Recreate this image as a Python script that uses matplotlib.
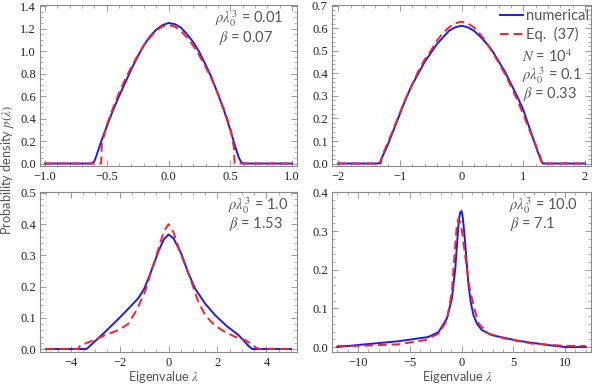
import matplotlib
matplotlib.use('Agg')
import matplotlib.pyplot as plt
from matplotlib.ticker import MultipleLocator, FuncFormatter
from matplotlib.lines import Line2D

plt.rcParams['mathtext.fontset'] = 'stix'
plt.rcParams['font.family'] = ['Lato', 'DejaVu Sans']

# panel (a): rho*lambda0^3 = 0.01
a_x_num = [-1.0, -0.62, -0.60, -0.58, -0.55, -0.50, -0.45, -0.40, -0.35, -0.30, -0.25, -0.20, -0.15, -0.10,
           -0.05, 0.0, 0.05, 0.10, 0.15, 0.20, 0.25, 0.30, 0.35, 0.40, 0.45, 0.50, 0.54, 0.57, 0.59, 0.61, 1.0]
a_y_num = [0, 0, 0.02, 0.08, 0.18, 0.33, 0.47, 0.60, 0.72, 0.84, 0.95, 1.05, 1.13, 1.19,
           1.23, 1.25, 1.24, 1.21, 1.15, 1.08, 0.99, 0.88, 0.76, 0.62, 0.47, 0.30, 0.15, 0.05, 0.01, 0, 0]
a_x_eq = [-1.0, -0.545, -0.54, -0.50, -0.45, -0.40, -0.35, -0.30, -0.25, -0.20, -0.15, -0.10, -0.05, 0.0,
          0.05, 0.10, 0.15, 0.20, 0.25, 0.30, 0.35, 0.40, 0.45, 0.50, 0.53, 0.535, 1.0]
a_y_eq = [0, 0, 0.17, 0.34, 0.49, 0.63, 0.75, 0.86, 0.96, 1.05, 1.12, 1.18, 1.22, 1.23,
          1.22, 1.18, 1.12, 1.05, 0.96, 0.86, 0.75, 0.62, 0.48, 0.32, 0.14, 0, 0]

# panel (b): rho*lambda0^3 = 0.1
b_x_num = [-2.0, -1.36, -1.32, -1.3, -1.2, -1.1, -1.0, -0.9, -0.8, -0.7, -0.6, -0.5, -0.4, -0.3, -0.2, -0.1,
           0.0, 0.1, 0.2, 0.3, 0.4, 0.5, 0.6, 0.7, 0.8, 0.9, 1.0, 1.1, 1.2, 1.28, 1.32, 2.0]
b_y_num = [0, 0, 0.005, 0.02, 0.08, 0.15, 0.22, 0.29, 0.35, 0.40, 0.45, 0.49, 0.53, 0.56, 0.59, 0.605,
           0.612, 0.605, 0.59, 0.565, 0.535, 0.50, 0.455, 0.41, 0.355, 0.30, 0.24, 0.16, 0.08, 0.02, 0, 0]
b_x_eq = [-2.0, -1.31, -1.29, -1.2, -1.1, -1.0, -0.9, -0.8, -0.7, -0.6, -0.5, -0.4, -0.3, -0.2, -0.1,
          0.0, 0.1, 0.2, 0.3, 0.4, 0.5, 0.6, 0.7, 0.8, 0.9, 1.0, 1.1, 1.2, 1.28, 1.30, 2.0]
b_y_eq = [0, 0, 0.03, 0.09, 0.155, 0.225, 0.29, 0.35, 0.41, 0.46, 0.50, 0.545, 0.58, 0.605, 0.623,
          0.63, 0.623, 0.605, 0.575, 0.54, 0.495, 0.45, 0.40, 0.345, 0.285, 0.22, 0.15, 0.085, 0.03, 0, 0]

# panel (c): rho*lambda0^3 = 1.0
c_x_num = [-5.0, -3.35, -3.0, -2.6, -2.0, -1.64, -1.23, -1.0, -0.8, -0.6, -0.4, -0.2, 0.0,
           0.2, 0.4, 0.55, 0.8, 1.09, 1.5, 1.91, 2.4, 2.87, 3.28, 3.42, 5.0]
c_y_num = [0, 0, 0.025, 0.054, 0.10, 0.129, 0.163, 0.192, 0.23, 0.272, 0.315, 0.35, 0.367,
           0.355, 0.325, 0.30, 0.245, 0.193, 0.145, 0.108, 0.072, 0.044, 0.009, 0, 0]
c_x_eq = [-5.0, -3.69, -3.6, -3.42, -3.0, -2.6, -2.0, -1.64, -1.3, -0.96, -0.7, -0.41, -0.2, 0.0,
          0.2, 0.41, 0.7, 0.96, 1.2, 1.5, 1.9, 2.32, 2.7, 3.14, 3.4, 3.55, 3.69, 5.0]
c_y_eq = [0, 0, 0.012, 0.017, 0.03, 0.044, 0.062, 0.081, 0.125, 0.183, 0.25, 0.32, 0.375, 0.40,
          0.375, 0.325, 0.265, 0.21, 0.155, 0.108, 0.075, 0.054, 0.04, 0.028, 0.016, 0.006, 0, 0]

# panel (d): rho*lambda0^3 = 10.0
d_x_num = [-12, -9.3, -6.1, -3.2, -2.2, -1.41, -0.93, -0.61, -0.35, -0.25, -0.13, 0.0, 0.1, 0.2, 0.35, 0.68,
           0.9, 1.16, 1.5, 1.96, 2.9, 5.5, 8.4, 10, 12]
d_y_num = [0, 0.007, 0.015, 0.026, 0.039, 0.074, 0.125, 0.20, 0.296, 0.328, 0.348, 0.352, 0.34, 0.315, 0.27, 0.159,
           0.115, 0.082, 0.06, 0.044, 0.031, 0.016, 0.005, 0, 0]
d_x_eq = [-12, -10, -6.1, -3.5, -2.2, -1.41, -0.93, -0.61, -0.45, -0.3, -0.1, 0.1, 0.35, 0.74,
          1.16, 1.64, 2.6, 4.2, 6.8, 10, 12]
d_y_eq = [0.003, 0.003, 0.007, 0.018, 0.035, 0.069, 0.143, 0.262, 0.315, 0.332, 0.322, 0.29, 0.237, 0.159,
          0.108, 0.061, 0.035, 0.022, 0.009, 0.003, 0.003]

W, H = 592, 384
fig = plt.figure(figsize=(W / 100, H / 100), dpi=100)


def px_axes(l, t, r, b):
    return fig.add_axes([l / W, 1 - b / H, (r - l) / W, (b - t) / H])


def fmt(decimals):
    def f(v, pos):
        s = '%.*f' % (decimals, v)
        if s.startswith('-'):
            s = '\u2212' + s[1:]
        if s == '\u22120' or s == '\u22120.0':
            s = s[1:]
        return s
    return FuncFormatter(f)


blue = '#1a1aff'
red = '#ff2020'
frame = '#8a8a8a'
gray = '#555555'
dash = (4.5, 2.5)

panels = [
    ((40, 5, 297, 166), a_x_num, a_y_num, a_x_eq, a_y_eq, (-1.04, 1.04), (-0.022, 1.41), 0.5, 0.1, 0.2, 0.05, 1),
    ((332, 5, 591, 166), b_x_num, b_y_num, b_x_eq, b_y_eq, (-2.1, 2.1), (-0.011, 0.704), 1, 0.2, 0.1, 0.02, 0),
    ((40, 192, 297, 352), c_x_num, c_y_num, c_x_eq, c_y_eq, (-5.25, 5.25), (-0.0096, 0.503), 2, 0.5, 0.1, 0.02, 0),
    ((332, 192, 591, 352), d_x_num, d_y_num, d_x_eq, d_y_eq, (-12.5, 12.5), (-0.0128, 0.401), 5, 1, 0.1, 0.02, 0),
]

axes = []
for box, xn, yn, xe, ye, xl, yl, xmaj, xmin, ymaj, ymin, xdec in panels:
    ax = px_axes(*box)
    ax.plot(xn, yn, color=blue, lw=1.4)
    ax.plot(xe, ye, color=red, lw=1.4, dashes=dash)
    ax.set_xlim(*xl)
    ax.set_ylim(*yl)
    ax.xaxis.set_major_locator(MultipleLocator(xmaj))
    ax.xaxis.set_minor_locator(MultipleLocator(xmin))
    ax.yaxis.set_major_locator(MultipleLocator(ymaj))
    ax.yaxis.set_minor_locator(MultipleLocator(ymin))
    ax.xaxis.set_major_formatter(fmt(xdec))
    ax.yaxis.set_major_formatter(fmt(1))
    ax.tick_params(which='both', direction='in', top=True, right=True, colors=frame,
                   labelcolor='#222222', labelsize=9)
    ax.tick_params(axis='x', pad=3.5)
    ax.tick_params(axis='y', pad=3)
    ax.tick_params(which='major', length=4, width=0.6)
    ax.tick_params(which='minor', length=2, width=0.5)
    for lab in ax.get_xticklabels() + ax.get_yticklabels():
        lab.set_family('Liberation Serif')
    for s in ax.spines.values():
        s.set_color(frame)
        s.set_linewidth(0.8)
    axes.append(ax)

txt = dict(color=gray, fontsize=10.5, va='center', ha='left')


def ftext(x, y, s):
    fig.text(x / W, 1 - y / H, s, **txt)


ftext(215, 19, r'$\rho\lambda_0^3$ = 0.01')
ftext(219, 38, r'$\beta$ = 0.07')
ftext(522, 57, r'$N$ = 10$^4$')
ftext(522, 76, r'$\rho\lambda_0^3$ = 0.1')
ftext(523, 94, r'$\beta$ = 0.33')
ftext(228, 206, r'$\rho\lambda_0^3$ = 1.0')
ftext(229, 224, r'$\beta$ = 1.53')
ftext(509, 206, r'$\rho\lambda_0^3$ = 10.0')
ftext(510, 224, r'$\beta$ = 7.1')

handles = [Line2D([], [], color=blue, lw=1.4), Line2D([], [], color=red, lw=1.4, dashes=dash)]
leg = axes[1].legend(handles, ['numerical', 'Eq.  (37)'], loc='upper right', frameon=False,
                     fontsize=10.5, handlelength=1.6, handletextpad=0.2, labelspacing=0.3,
                     borderaxespad=0, borderpad=0, bbox_to_anchor=(589 / W, 1 - 9 / H),
                     bbox_transform=fig.transFigure)
for t in leg.get_texts():
    t.set_color(gray)

lab = dict(color=gray, fontsize=9.2, va='center', ha='center')
fig.text(8 / W, 1 - 170 / H, r'Probability density $p(\lambda)$', rotation=90, **lab)
fig.text(164 / W, 1 - 377 / H, r'Eigenvalue $\lambda$', **lab)
fig.text(458 / W, 1 - 377 / H, r'Eigenvalue $\lambda$', **lab)

fig.savefig('out.png', dpi=100)
